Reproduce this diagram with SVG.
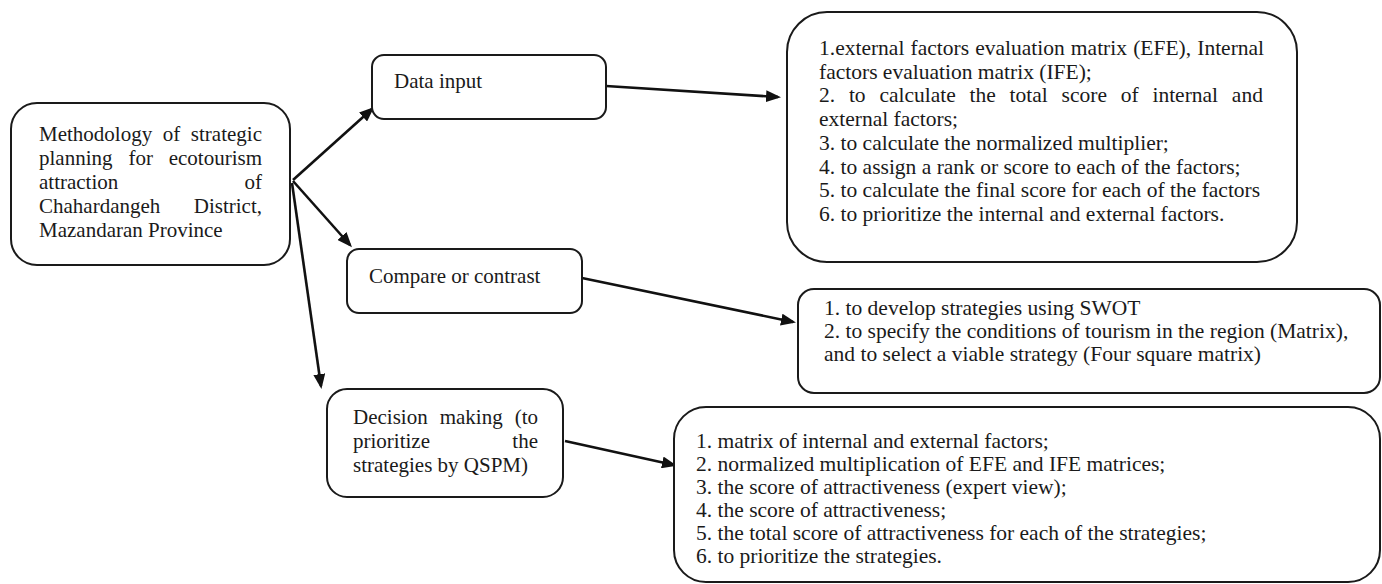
<svg xmlns="http://www.w3.org/2000/svg" width="1382" height="584" viewBox="0 0 1382 584">
<style>
  .box { fill: #ffffff; stroke: #1a1a1a; stroke-width: 2; }
  .t { font-family: "Liberation Serif", "Times New Roman", serif; font-size: 21px; fill: #1a1a1a; }
  .tr { font-family: "Liberation Serif", "Times New Roman", serif; font-size: 21.5px; fill: #1a1a1a; }
  .end { text-anchor: end; }
  .arrow { stroke: #111111; stroke-width: 2.6; fill: none; marker-end: url(#ah); }
</style>
<defs>
  <marker id="ah" markerUnits="userSpaceOnUse" markerWidth="16" markerHeight="12" refX="12" refY="6" orient="auto">
    <path d="M0,0 L15,6 L0,12 z" fill="#111111"/>
  </marker>
</defs>
<rect width="1382" height="584" fill="#ffffff"/>

<g id="connectors">
  <line class="arrow" x1="293" y1="180" x2="372" y2="109"/>
  <line class="arrow" x1="293" y1="181" x2="350" y2="245"/>
  <line class="arrow" x1="292" y1="183" x2="321" y2="386"/>
  <line class="arrow" x1="606" y1="86" x2="778" y2="97"/>
  <line class="arrow" x1="582" y1="278" x2="793" y2="322"/>
  <line class="arrow" x1="565" y1="441" x2="674" y2="465"/>
</g>

<g id="node-methodology">
  <rect class="box" x="11" y="103" width="279" height="162" rx="26" ry="26"/>
  <text class="t" x="39" y="141">Methodology</text>
  <text class="t" x="162.8" y="141">of</text>
  <text class="t end" x="262" y="141">strategic</text>
  <text class="t" x="39" y="165">planning</text>
  <text class="t" x="128.4" y="165">for</text>
  <text class="t end" x="262" y="165">ecotourism</text>
  <text class="t" x="39" y="189">attraction</text>
  <text class="t end" x="262" y="189">of</text>
  <text class="t" x="39" y="213">Chahardangeh</text>
  <text class="t end" x="262" y="213">District,</text>
  <text class="t" x="39" y="237">Mazandaran Province</text>
</g>

<g id="node-data-input">
  <rect class="box" x="372" y="55" width="234" height="64" rx="12" ry="12"/>
  <text class="t" x="394" y="88">Data input</text>
</g>

<g id="node-compare">
  <rect class="box" x="347" y="249" width="235" height="64" rx="12" ry="12"/>
  <text class="t" x="369" y="283">Compare or contrast</text>
</g>

<g id="node-decision">
  <rect class="box" x="327" y="389" width="236" height="108" rx="20" ry="20"/>
  <text class="t" x="353" y="424">Decision</text>
  <text class="t" x="439.7" y="424">making</text>
  <text class="t end" x="538" y="424">(to</text>
  <text class="t" x="353" y="448">prioritize</text>
  <text class="t end" x="538" y="448">the</text>
  <text class="t" x="353" y="472">strategies by QSPM)</text>
</g>

<g id="node-data-steps">
  <rect class="box" x="787" y="12" width="510" height="250" rx="40" ry="40"/>
  <text class="tr" x="819" y="55" word-spacing="0.78">1.external factors evaluation matrix (EFE), Internal</text>
  <text class="tr" x="819" y="78.7">factors evaluation matrix (IFE);</text>
  <text class="tr" x="819" y="102.4" word-spacing="8.4">2. to calculate the total score of internal and</text>
  <text class="tr" x="819" y="126">external factors;</text>
  <text class="tr" x="819" y="149.8">3. to calculate the normalized multiplier;</text>
  <text class="tr" x="819" y="173.5">4. to assign a rank or score to each of the factors;</text>
  <text class="tr" x="819" y="197.2">5. to calculate the final score for each of the factors</text>
  <text class="tr" x="819" y="221">6. to prioritize the internal and external factors.</text>
</g>

<g id="node-swot-steps">
  <rect class="box" x="798" y="289" width="582" height="104" rx="16" ry="16"/>
  <text class="tr" x="824" y="315">1. to develop strategies using SWOT</text>
  <text class="tr" x="824" y="338">2. to specify the conditions of tourism in the region (Matrix),</text>
  <text class="tr" x="824" y="361">and to select a viable strategy (Four square matrix)</text>
</g>

<g id="node-qspm-steps">
  <rect class="box" x="674" y="407" width="706" height="175" rx="32" ry="32"/>
  <text class="tr" x="696" y="448">1. matrix of internal and external factors;</text>
  <text class="tr" x="696" y="471">2. normalized multiplication of EFE and IFE matrices;</text>
  <text class="tr" x="696" y="494">3. the score of attractiveness (expert view);</text>
  <text class="tr" x="696" y="517">4. the score of attractiveness;</text>
  <text class="tr" x="696" y="540">5. the total score of attractiveness for each of the strategies;</text>
  <text class="tr" x="696" y="563">6. to prioritize the strategies.</text>
</g>
</svg>
